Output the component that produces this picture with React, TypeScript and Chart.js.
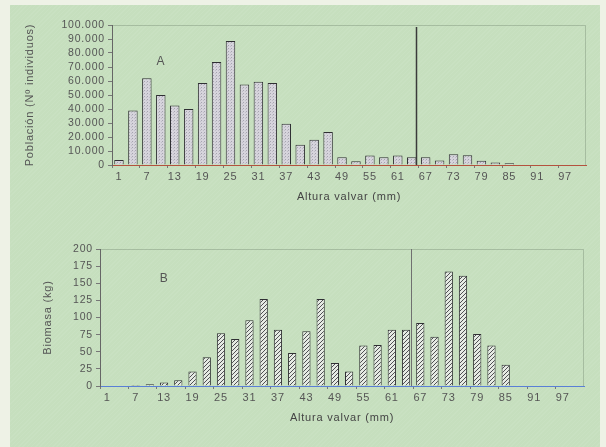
import React, { useEffect, useRef } from "react";
import { Chart, registerables } from "chart.js";

Chart.register(...registerables);

// Size classes (Altura valvar, mm)
const heights: number[] = [1, 4, 7, 10, 13, 16, 19, 22, 25, 28, 31, 34, 37, 40, 43, 46, 49, 52, 55, 58, 61, 64, 67, 70, 73, 76, 79, 82, 85, 88, 91, 94, 97, 100];
// Panel A: Población (Nº individuos)
const poblacion: number[] = [3500, 39000, 62000, 50000, 42500, 40000, 58500, 73500, 88500, 57500, 59500, 58500, 29500, 14500, 18000, 23500, 5500, 2600, 6700, 5500, 6700, 5500, 5500, 3300, 7600, 6900, 3000, 1700, 1200, 0, 0, 0, 0, 0];
// Panel B: Biomasa (kg)
const biomasa: number[] = [0, 0, 1.5, 2.5, 5, 8.5, 21, 42, 77, 68.5, 96, 127, 82, 48, 80, 127, 33.5, 21, 59, 60, 82, 82, 92, 72, 167, 161, 76, 59, 31, 0, 0, 0, 0, 0];

const poblacionTicks = { min: 0, max: 100000, step: 10000 };
const biomasaTicks = { min: 0, max: 200, step: 25 };
const cutIndex = 21; // legal-size line drawn just right of class 64
const cutOffset = 0.32;

const FONT = "'Liberation Sans', Arial, sans-serif";
const TEXT = "#555";

function fmt(v: number): string {
  return String(v).replace(/\B(?=(\d{3})+(?!\d))/g, ".");
}

function dotPattern(): CanvasPattern | string {
  const c = document.createElement("canvas");
  c.width = 3;
  c.height = 3;
  const g = c.getContext("2d");
  if (!g) return "#cfcdd6";
  g.fillStyle = "#d6d4dc";
  g.fillRect(0, 0, 3, 3);
  g.fillStyle = "#a6a4b0";
  g.fillRect(0, 0, 1, 1);
  g.fillStyle = "#c0bec8";
  g.fillRect(2, 1, 1, 1);
  return g.createPattern(c, "repeat") || "#cfcdd6";
}

function hatchPattern(): CanvasPattern | string {
  const c = document.createElement("canvas");
  c.width = 4;
  c.height = 4;
  const g = c.getContext("2d");
  if (!g) return "#ccc";
  g.fillStyle = "#e6ebe4";
  g.fillRect(0, 0, 4, 4);
  g.fillStyle = "#505054";
  g.fillRect(3, 0, 1, 1);
  g.fillRect(2, 1, 1, 1);
  g.fillRect(1, 2, 1, 1);
  g.fillRect(0, 3, 1, 1);
  return g.createPattern(c, "repeat") || "#ccc";
}

const spacing = {
  id: "spacing",
  beforeUpdate(chart: any) {
    chart.ctx.letterSpacing = "0.8px";
  },
  beforeDraw(chart: any) {
    chart.ctx.letterSpacing = "0.8px";
  },
};

const decor = {
  id: "decor",
  afterDatasetsDraw(chart: any, _args: any, opts: any) {
    const { ctx, chartArea: ca, scales } = chart;
    ctx.save();
    ctx.strokeStyle = opts.frameColor;
    ctx.lineWidth = 1;
    ctx.beginPath();
    ctx.moveTo(ca.left, ca.top + 0.5);
    ctx.lineTo(ca.right - 0.5, ca.top + 0.5);
    ctx.lineTo(ca.right - 0.5, ca.bottom);
    ctx.stroke();
    const x0 = scales.x.getPixelForValue(opts.cutIndex);
    const x1 = scales.x.getPixelForValue(opts.cutIndex + 1);
    const x = x0 + (x1 - x0) * opts.cutOffset;
    ctx.strokeStyle = opts.lineColor;
    ctx.lineWidth = opts.lineWidth;
    ctx.beginPath();
    ctx.moveTo(Math.round(x) + 0.5, ca.top + opts.lineTopGap);
    ctx.lineTo(Math.round(x) + 0.5, ca.bottom);
    ctx.stroke();
    ctx.fillStyle = "#555";
    ctx.font = "12px " + FONT;
    ctx.textAlign = "center";
    ctx.textBaseline = "middle";
    ctx.fillText(opts.letter, scales.x.getPixelForValue(opts.letterIndex), scales.y.getPixelForValue(opts.letterValue));
    ctx.restore();
  },
};

function makeConfig(p: {
  data: number[];
  fill: any;
  yMin: number;
  yMax: number;
  yStep: number;
  yTitle: string;
  yWidth: number;
  xHeight: number;
  titlePad: { top: number; bottom: number };
  yTitlePad: number;
  padTop: number;
  padRight: number;
  barPct: number;
  xBorder: string;
  decorOpts: any;
  fmtY: (v: number) => string;
}): any {
  return {
    type: "bar",
    data: {
      labels: heights.map(String),
      datasets: [
        {
          data: p.data,
          backgroundColor: p.fill,
          borderColor: "#2f2f33",
          borderWidth: 1,
          barPercentage: p.barPct,
          categoryPercentage: 1,
        },
      ],
    },
    plugins: [spacing, decor],
    options: {
      animation: false,
      responsive: false,
      events: [],
      layout: { padding: { top: p.padTop, right: p.padRight, left: 0, bottom: 0 } },
      plugins: {
        legend: { display: false },
        tooltip: { enabled: false },
        decor: p.decorOpts,
      },
      scales: {
        x: {
          afterFit: (s: any) => {
            s.height = p.xHeight;
          },
          border: { color: p.xBorder, width: 1 },
          grid: {
            drawOnChartArea: false,
            offset: true,
            tickLength: 3,
            tickColor: (c: any) => (c.index % 2 === 0 ? "#777" : "rgba(0,0,0,0)"),
          },
          ticks: {
            autoSkip: false,
            maxRotation: 0,
            color: TEXT,
            font: { family: FONT, size: 11 },
            padding: 2,
            callback: (_v: any, i: number) => (i % 2 === 0 ? String(heights[i]) : ""),
          },
          title: {
            display: true,
            text: "Altura valvar (mm)",
            color: "#444",
            font: { family: FONT, size: 11 },
            padding: p.titlePad,
          },
        },
        y: {
          min: p.yMin,
          max: p.yMax,
          afterFit: (s: any) => {
            s.width = p.yWidth;
          },
          border: { color: "#666", width: 1 },
          grid: { drawOnChartArea: false, tickLength: 4, color: "#777" },
          ticks: {
            stepSize: p.yStep,
            autoSkip: false,
            color: TEXT,
            font: { family: FONT, size: 10.5 },
            padding: 3,
            callback: (v: any) => p.fmtY(Number(v)),
          },
          title: {
            display: true,
            text: p.yTitle,
            color: "#555",
            font: { family: FONT, size: 11 },
            padding: { top: p.yTitlePad, bottom: 0 },
          },
        },
      },
    },
  };
}

export default function App() {
  const refA = useRef<HTMLCanvasElement | null>(null);
  const refB = useRef<HTMLCanvasElement | null>(null);

  useEffect(() => {
    if (!refA.current || !refB.current) return;
    const chartA = new Chart(
      refA.current,
      makeConfig({
        data: poblacion,
        fill: dotPattern(),
        yMin: poblacionTicks.min,
        yMax: poblacionTicks.max,
        yStep: poblacionTicks.step,
        yTitle: "Población (Nº individuos)",
        yWidth: 112,
        xHeight: 50,
        titlePad: { top: 4, bottom: 11 },
        yTitlePad: 23,
        padTop: 25,
        padRight: 20,
        barPct: 0.68,
        xBorder: "#b4523e",
        fmtY: fmt,
        decorOpts: {
          frameColor: "rgba(90,110,90,0.3)",
          lineColor: "#3a3a3a",
          lineWidth: 1.5,
          lineTopGap: 2,
          cutIndex,
          cutOffset,
          letter: "A",
          letterIndex: 3,
          letterValue: 74000,
        },
      })
    );
    const chartB = new Chart(
      refB.current,
      makeConfig({
        data: biomasa,
        fill: hatchPattern(),
        yMin: biomasaTicks.min,
        yMax: biomasaTicks.max,
        yStep: biomasaTicks.step,
        yTitle: "Biomasa (kg)",
        yWidth: 100,
        xHeight: 61,
        titlePad: { top: 4, bottom: 22 },
        yTitlePad: 41,
        padTop: 34,
        padRight: 22,
        barPct: 0.58,
        xBorder: "#5a7fd6",
        fmtY: (v: number) => String(v),
        decorOpts: {
          frameColor: "rgba(90,110,90,0.3)",
          lineColor: "#707070",
          lineWidth: 1,
          lineTopGap: 0,
          cutIndex,
          cutOffset,
          letter: "B",
          letterIndex: 4,
          letterValue: 157,
        },
      })
    );
    return () => {
      chartA.destroy();
      chartB.destroy();
    };
  }, []);

  return (
    <div
      style={{
        position: "fixed",
        left: 0,
        top: 0,
        width: 606,
        height: 447,
        background: "#eef2e6",
        overflow: "hidden",
      }}
    >
      <div
        style={{
          position: "absolute",
          left: 10,
          top: 5,
          width: 590,
          height: 442,
          background:
            "repeating-linear-gradient(135deg, rgba(255,255,255,0.06) 0px, rgba(255,255,255,0.06) 1px, rgba(0,0,0,0) 1px, rgba(0,0,0,0) 3px), #c6dfbe",
        }}
      />
      <canvas
        ref={refA}
        width={606}
        height={215}
        style={{ position: "absolute", left: 0, top: 0, display: "block" }}
      />
      <canvas
        ref={refB}
        width={606}
        height={232}
        style={{ position: "absolute", left: 0, top: 215, display: "block" }}
      />
    </div>
  );
}
